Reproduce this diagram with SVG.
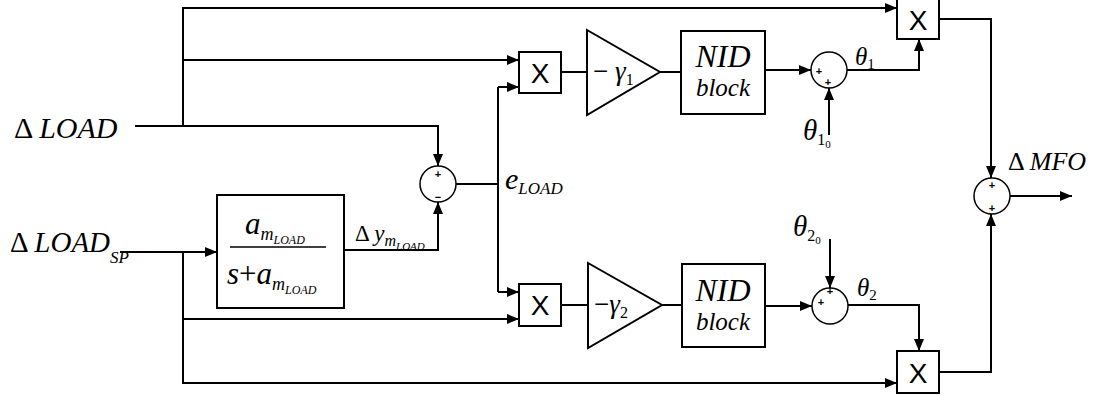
<svg xmlns="http://www.w3.org/2000/svg" width="1105" height="396" viewBox="0 0 1105 396">
<style>
.ln{fill:none;stroke:#000;stroke-width:2}
.bx{fill:#fff;stroke:#000;stroke-width:2}
.ci{fill:#fff;stroke:#000;stroke-width:1.5}
.i{font-style:italic}
text.x{font-family:Liberation Sans,Arial,sans-serif;font-size:28px;fill:#000;text-anchor:middle}
text.s{font-family:Liberation Sans,Arial,sans-serif;font-size:11px;font-weight:bold;fill:#000;text-anchor:middle}
</style>
<defs>
<marker id="a" viewBox="0 0 12 10" refX="12" refY="5" markerWidth="12" markerHeight="10" markerUnits="userSpaceOnUse" orient="auto">
<path d="M0,0 L12,5 L0,10 Z" fill="#000"/>
</marker>
</defs>
<rect width="1105" height="396" fill="#fff"/>
<g id="connectors">
<path class="ln" d="M135,126 H438 V166" marker-end="url(#a)"/>
<path class="ln" d="M183,126 V8 H897" marker-end="url(#a)"/>
<path class="ln" d="M183,60 H519" marker-end="url(#a)"/>
<path class="ln" d="M120,252 H217" marker-end="url(#a)"/>
<path class="ln" d="M183,252 V383 H897" marker-end="url(#a)"/>
<path class="ln" d="M183,319 H519" marker-end="url(#a)"/>
<path class="ln" d="M344,250 H438 V202" marker-end="url(#a)"/>
<path class="ln" d="M456,184 H498"/>
<path class="ln" d="M498,87 V292"/>
<path class="ln" d="M498,87 H519" marker-end="url(#a)"/>
<path class="ln" d="M498,292 H519" marker-end="url(#a)"/>
<path class="ln" d="M561,72 H587"/>
<path class="ln" d="M660,72 H681"/>
<path class="ln" d="M765,70 H811" marker-end="url(#a)"/>
<path class="ln" d="M829,135 V88" marker-end="url(#a)"/>
<path class="ln" d="M847,70 H919 V39" marker-end="url(#a)"/>
<path class="ln" d="M561,305 H588"/>
<path class="ln" d="M662,305 H682"/>
<path class="ln" d="M765,306 H812" marker-end="url(#a)"/>
<path class="ln" d="M830,239 V288" marker-end="url(#a)"/>
<path class="ln" d="M848,305 H919 V351" marker-end="url(#a)"/>
<path class="ln" d="M939,19 H991 V178" marker-end="url(#a)"/>
<path class="ln" d="M939,372 H991 V214" marker-end="url(#a)"/>
<path class="ln" d="M1010,196 H1072" marker-end="url(#a)"/>
</g>
<g font-family="Liberation Serif, DejaVu Serif, Times New Roman, serif" fill="#000">
<g id="in_load">
<text x="14" y="138" font-size="30">Δ <tspan class="i">LOAD</tspan></text>
</g>
<g id="in_load_sp">
<text x="10" y="252" font-size="29">Δ <tspan class="i">LOAD</tspan><tspan class="i" font-size="17" dy="11">SP</tspan></text>
</g>
<g id="filter">
<rect class="bx" x="217" y="195" width="127" height="113"/>
<line x1="230" y1="247" x2="326" y2="247" stroke="#000" stroke-width="1.5"/>
<text class="i" x="245" y="234" font-size="31">a<tspan font-size="18" dy="6">m</tspan><tspan font-size="12" dy="4">LOAD</tspan></text>
<text x="227" y="284" font-size="31"><tspan class="i">s</tspan>+<tspan class="i">a</tspan><tspan class="i" font-size="18" dy="6">m</tspan><tspan class="i" font-size="12" dy="4">LOAD</tspan></text>
<text x="355" y="241" font-size="23">Δ <tspan class="i">y</tspan><tspan class="i" font-size="16" dy="5">m</tspan><tspan class="i" font-size="11" dy="4">LOAD</tspan></text>
</g>
<g id="sum_err">
<circle class="ci" cx="438" cy="184" r="18"/>
<text class="s" x="438" y="178">+</text>
<text class="s" x="438" y="201">−</text>
<text class="i" x="505" y="189" font-size="30">e<tspan font-size="17" dy="5">LOAD</tspan></text>
</g>
<g id="mult1">
<rect class="bx" x="519" y="52" width="42" height="41"/>
<text class="x" x="540" y="83">X</text>
</g>
<g id="gain1">
<path class="bx" d="M587,30 L660,72 L587,115 Z"/>
<text x="593" y="80" font-size="27">− <tspan class="i">γ</tspan><tspan font-size="16" dy="5">1</tspan></text>
</g>
<g id="nid1">
<rect class="bx" x="681" y="31" width="84" height="83"/>
<text class="i" x="723" y="67" font-size="32" text-anchor="middle">NID</text>
<text class="i" x="723" y="96" font-size="25" text-anchor="middle">block</text>
</g>
<g id="sum1">
<circle class="ci" cx="829" cy="70" r="18"/>
<text class="s" x="819" y="75">+</text>
<text class="s" x="828" y="86">+</text>
<text class="i" x="855" y="65" font-size="25">θ<tspan font-style="normal" font-size="15" dy="4">1</tspan></text>
<text class="i" x="803" y="140" font-size="29">θ<tspan font-style="normal" font-size="16" dy="5">1</tspan><tspan font-style="normal" font-size="11" dy="3">0</tspan></text>
</g>
<g id="mult_top">
<rect class="bx" x="897" y="-2" width="42" height="41"/>
<text class="x" x="918" y="30">X</text>
</g>
<g id="mult2">
<rect class="bx" x="519" y="284" width="42" height="42"/>
<text class="x" x="540" y="315">X</text>
</g>
<g id="gain2">
<path class="bx" d="M588,263 L662,305 L588,348 Z"/>
<text x="594" y="313" font-size="27">−<tspan class="i">γ</tspan><tspan font-size="16" dy="5">2</tspan></text>
</g>
<g id="nid2">
<rect class="bx" x="682" y="264" width="83" height="83"/>
<text class="i" x="723" y="301" font-size="32" text-anchor="middle">NID</text>
<text class="i" x="723" y="330" font-size="25" text-anchor="middle">block</text>
</g>
<g id="sum2">
<circle class="ci" cx="830" cy="306" r="18"/>
<text class="s" x="830" y="295">+</text>
<text class="s" x="821" y="306">+</text>
<text class="i" x="857" y="296" font-size="25">θ<tspan font-style="normal" font-size="15" dy="4">2</tspan></text>
<text class="i" x="793" y="236" font-size="29">θ<tspan font-style="normal" font-size="16" dy="5">2</tspan><tspan font-style="normal" font-size="11" dy="3">0</tspan></text>
</g>
<g id="mult_bot">
<rect class="bx" x="897" y="351" width="42" height="42"/>
<text class="x" x="918" y="383">X</text>
</g>
<g id="sum_out">
<circle class="ci" cx="992" cy="196" r="18"/>
<text class="s" x="992" y="189">+</text>
<text class="s" x="992" y="212">+</text>
<text x="1008" y="170" font-size="26">Δ <tspan class="i">MFO</tspan></text>
</g>
</g>
</svg>
